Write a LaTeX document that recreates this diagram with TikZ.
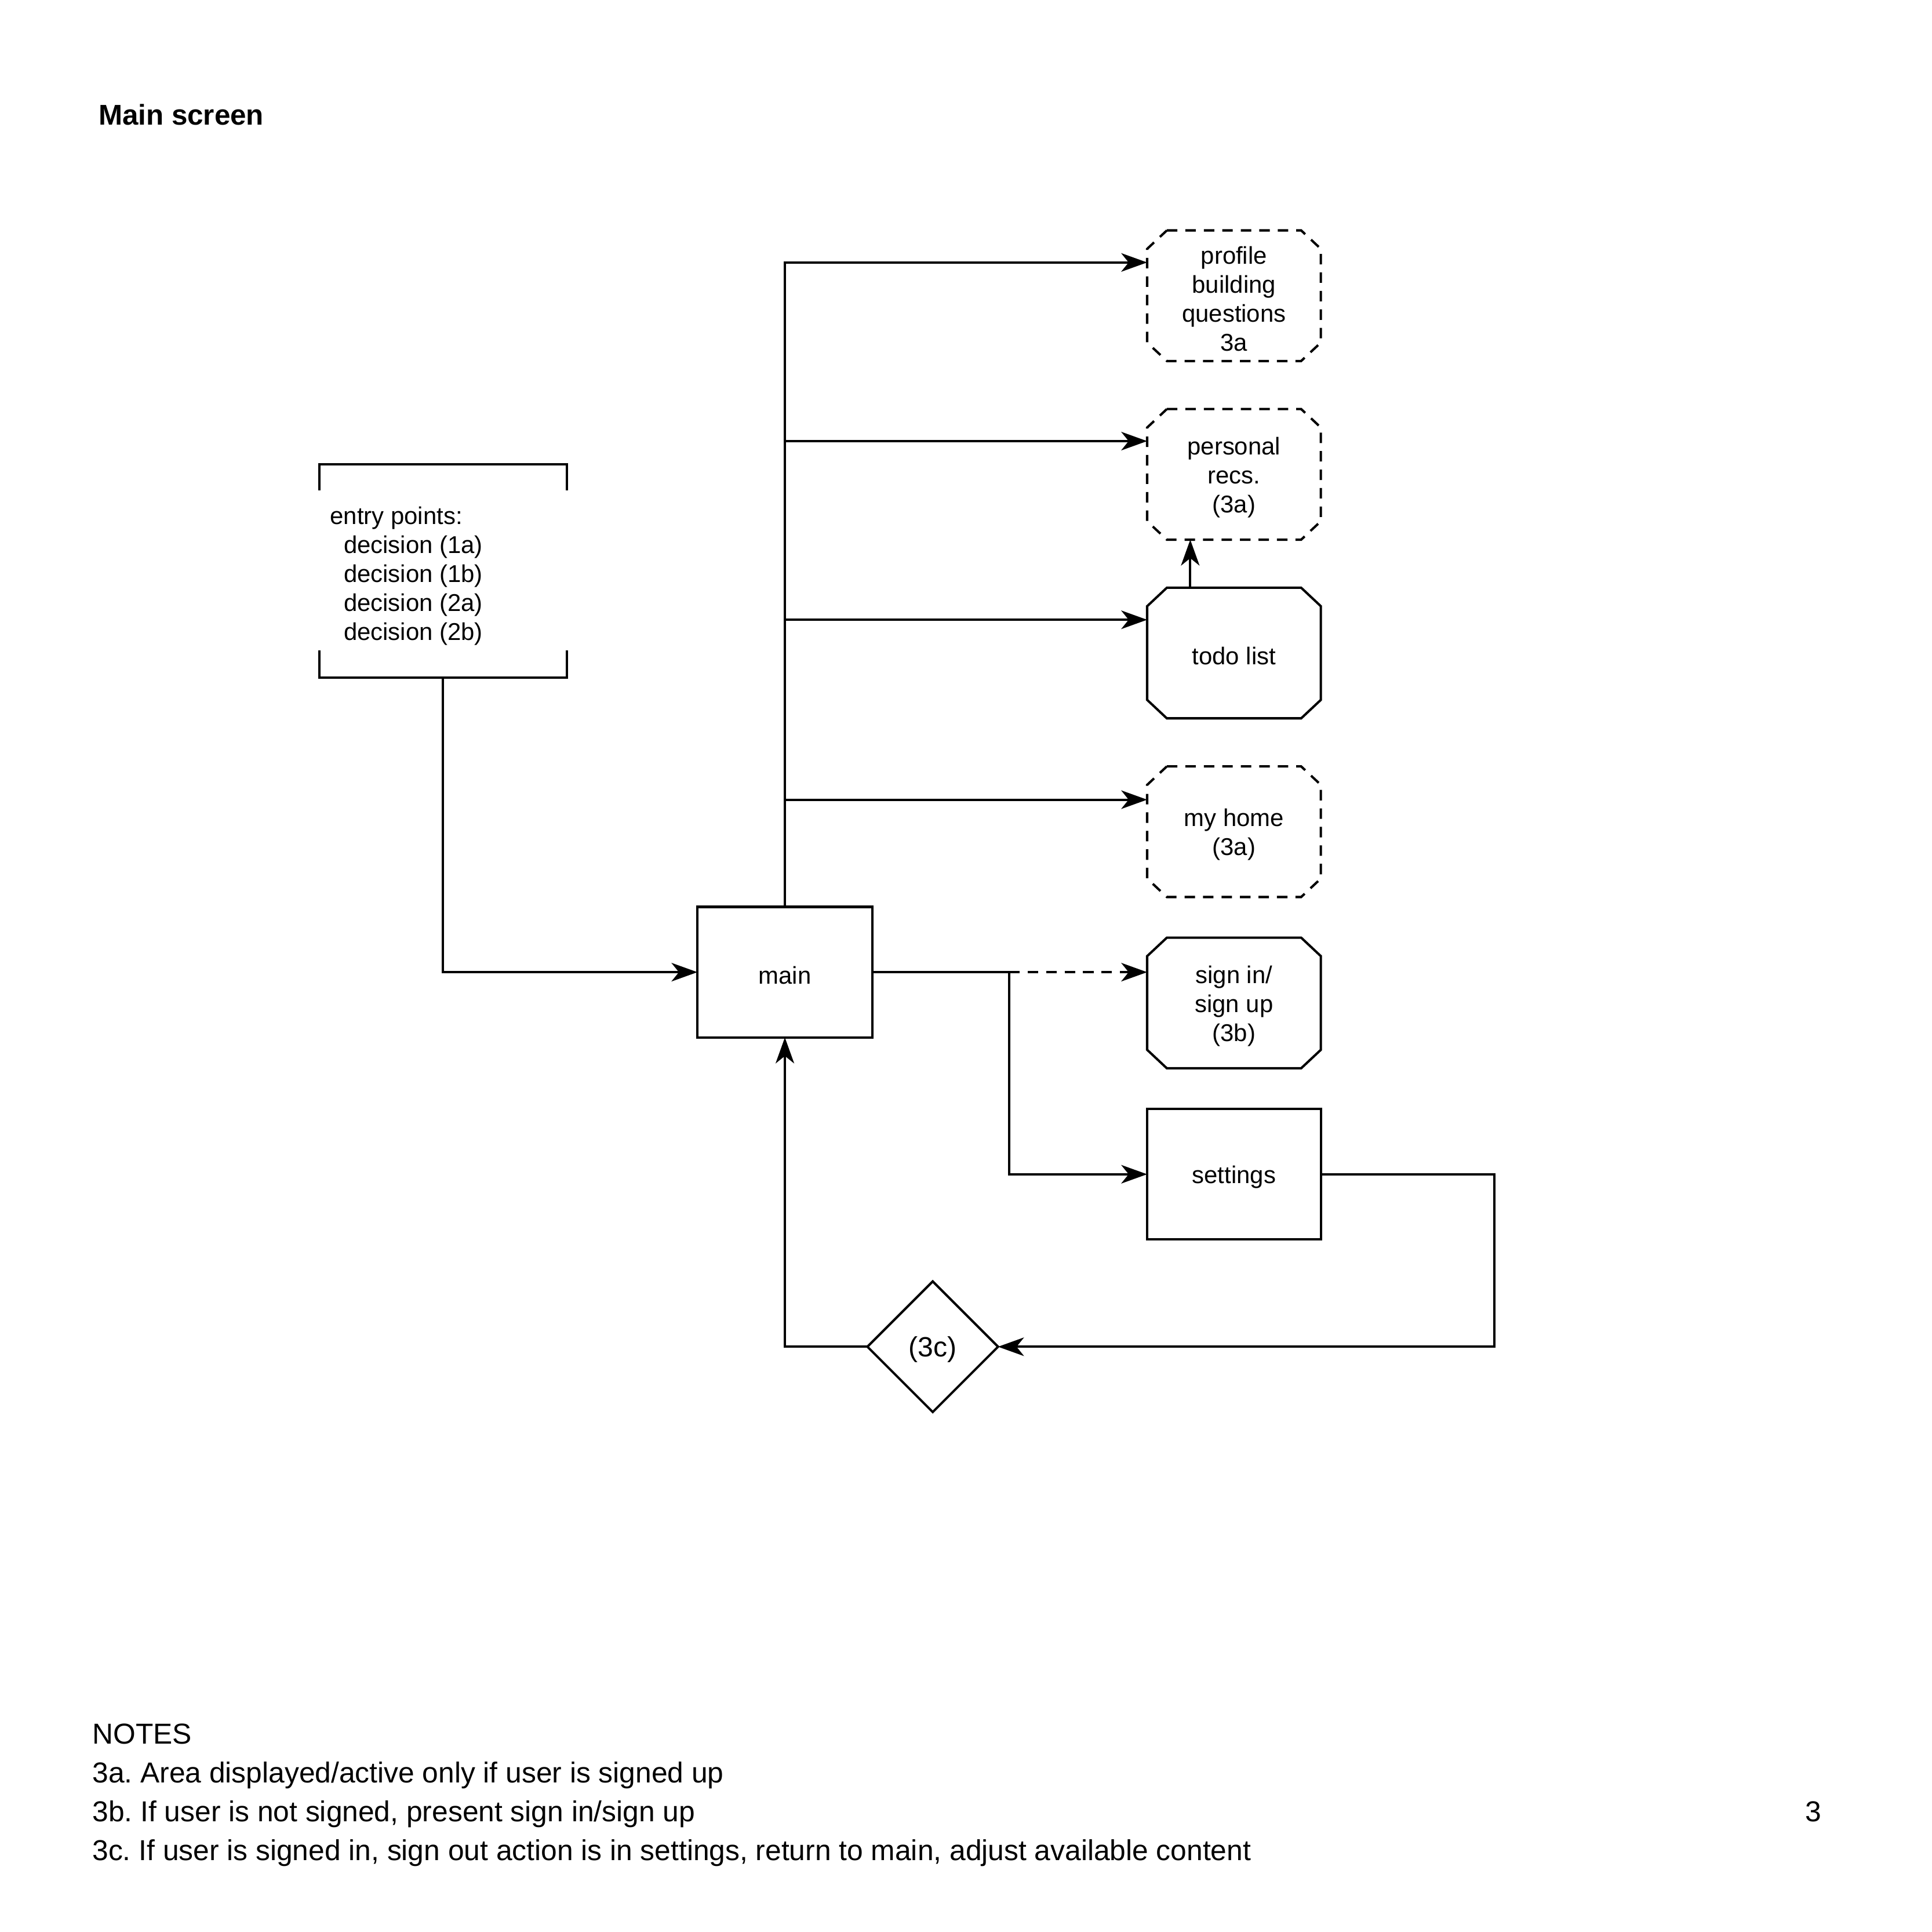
\documentclass[tikz,border=0pt]{standalone}
\usepackage{fontspec}
\setmainfont{Liberation Sans}
\usetikzlibrary{arrows.meta,shapes.geometric}
\newcommand\octopath[1]{([xshift=16pt]#1.north west) -- ([xshift=-16pt]#1.north east) -- ([yshift=-15pt]#1.north east) -- ([yshift=15pt]#1.south east) -- ([xshift=-16pt]#1.south east) -- ([xshift=16pt]#1.south west) -- ([yshift=15pt]#1.south west) -- ([yshift=-15pt]#1.north west) -- cycle}
\frenchspacing
\begin{document}
\begin{tikzpicture}[x=1pt,y=-1pt,
  lw/.style={line width=1.9pt},
  every node/.style={outer sep=0pt, inner sep=0pt},
  boxfont/.style={font=\fontsize{19.7}{23.5}\selectfont, align=center},
  boxtext/.style={boxfont, yshift=-2.5pt},
  box/.style={minimum width=141pt, minimum height=106pt},
  plainbox/.style={box, draw, lw},
  arr/.style={lw, -{Stealth[length=21pt,width=15pt,inset=6pt]}},
  dashpat/.style={dash pattern=on 8.5pt off 6.5pt},
  notefont/.style={font=\fontsize{23.4}{31.5}\selectfont, anchor=base west},
]
\useasboundingbox (0,0) rectangle (1568,1568);

% title
\node[font=\bfseries\fontsize{23.2}{28}\selectfont, anchor=base west] (title) at (80,101.3) {Main screen};

% entry points bracket
\node[minimum width=201pt, minimum height=173pt] (entry) at (359.5,463.5) {};
\node[boxfont, align=left, anchor=west] (entrytxt) at (268,467.5) {entry points:\\\hspace*{11pt}decision (1a)\\\hspace*{11pt}decision (1b)\\\hspace*{11pt}decision (2a)\\\hspace*{11pt}decision (2b)};
\draw[lw] ([yshift=-21pt]entry.north west) -- (entry.north west) -- (entry.north east) -- ([yshift=-21pt]entry.north east);
\draw[lw] ([yshift=22pt]entry.south west) -- (entry.south west) -- (entry.south east) -- ([yshift=22pt]entry.south east);

% main
\node[plainbox, minimum width=142pt] (main) at (637,789) {};
\node[boxtext] (maintxt) at (main) {main};

% right column
\node[box] (profile) at (1001.5,240) {};
\node[box] (recs) at (1001.5,385) {};
\node[box] (todo) at (1001.5,530) {};
\node[box] (home) at (1001.5,675) {};
\node[box] (signin) at (1001.5,814) {};
\node[plainbox] (settings) at (1001.5,953) {};
\node[boxtext] (profiletxt) at (profile) {profile\\building\\questions\\3a};
\node[boxtext] (recstxt) at (recs) {personal\\recs.\\(3a)};
\node[boxtext] (todotxt) at (todo) {todo list};
\node[boxtext] (hometxt) at (home) {my home\\(3a)};
\node[boxtext] (signintxt) at (signin) {sign in/\\sign up\\(3b)};
\node[boxtext] (settingstxt) at (settings) {settings};
\draw[lw,dashpat] \octopath{profile};
\draw[lw,dashpat] \octopath{recs};
\draw[lw] \octopath{todo};
\draw[lw,dashpat] \octopath{home};
\draw[lw] \octopath{signin};

% decision
\node[diamond, draw, lw, aspect=1, minimum width=106pt, minimum height=106pt] (dec) at (757,1093) {};
\node[font=\fontsize{22.6}{27}\selectfont, yshift=-2pt] (dectxt) at (dec) {(3c)};

% connectors
\draw[arr] (entry.south) |- (main.west);
\draw[arr] (main.north) |- ([yshift=27pt]profile.west);
\draw[arr] (main.north) |- ([yshift=27pt]recs.west);
\draw[arr] (main.north) |- ([yshift=27pt]todo.west);
\draw[arr] (main.north) |- ([yshift=26pt]home.west);
\draw[arr] ([xshift=-35.5pt]todo.north) -- ([xshift=-35.5pt]recs.south);
\coordinate (j) at (819,789);
\draw[lw] (main.east) -- (j);
\draw[arr,dashpat] (j) -- ([yshift=25pt]signin.west);
\draw[arr] (j) |- (settings.west);
\draw[arr] (settings.east) -- ++(141,0) |- (dec.east);
\draw[arr] (dec.west) -| (main.south);

% notes
\node[notefont] (n0) at (75,1415.3) {NOTES};
\node[notefont] (n1) at (75,1446.8) {3a. Area displayed/active only if user is signed up};
\node[notefont] (n2) at (75,1478.3) {3b. If user is not signed, present sign in/sign up};
\node[notefont] (n3) at (75,1509.8) {3c. If user is signed in, sign out action is in settings, return to main, adjust available content};
\node[notefont] (page) at (1465,1478.3) {3};
\end{tikzpicture}
\end{document}
